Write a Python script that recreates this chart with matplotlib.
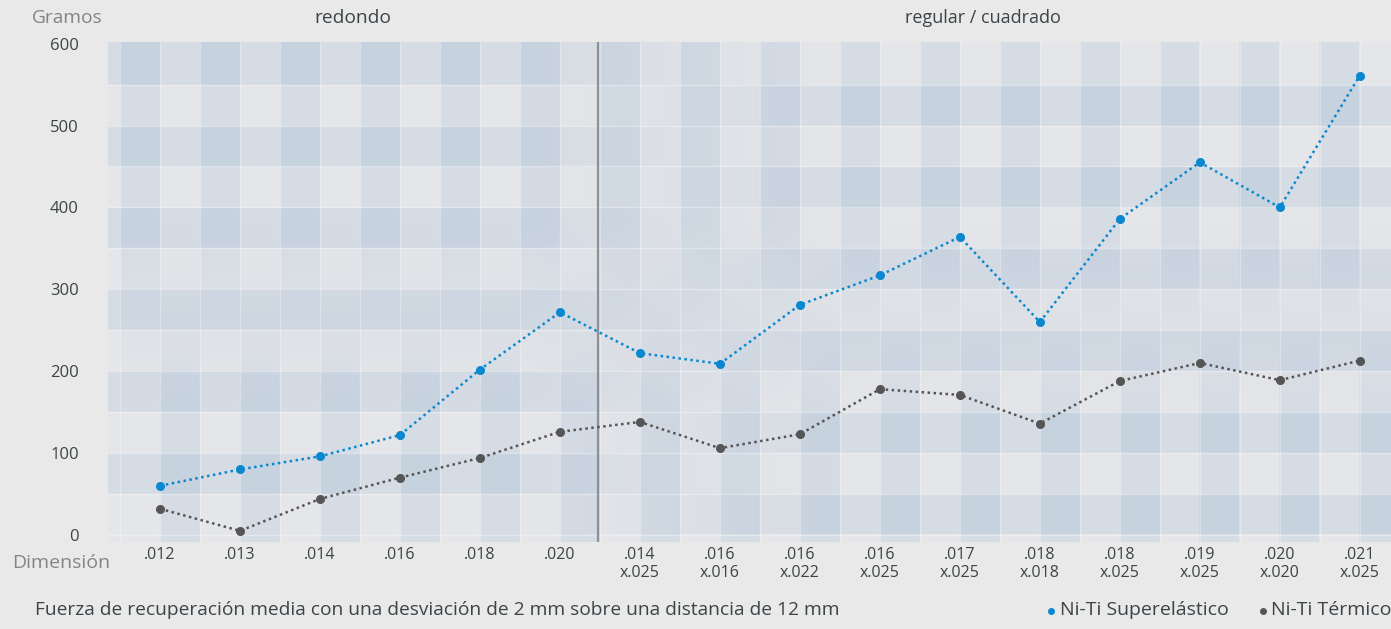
import numpy as np
import matplotlib
matplotlib.use("Agg")
import matplotlib.pyplot as plt
from matplotlib.lines import Line2D

# ---------------- data ----------------
categories = [".012", ".013", ".014", ".016", ".018", ".020",
              ".014\nx.025", ".016\nx.016", ".016\nx.022", ".016\nx.025", ".017\nx.025",
              ".018\nx.018", ".018\nx.025", ".019\nx.025", ".020\nx.020", ".021\nx.025"]
superelastico = [60, 80, 96, 122, 202, 272, 222, 209, 281, 317, 364, 260, 386, 455, 400, 561]
termico = [32, 5, 44, 70, 94, 126, 138, 106, 123, 178, 171, 136, 188, 210, 189, 213]
yticks = [0, 100, 200, 300, 400, 500, 600]
group_labels = ["redondo", "regular / cuadrado"]
series_names = ["Ni-Ti Superelástico", "Ni-Ti Térmico"]
y_title = "Gramos"
x_title = "Dimensión"
footer = "Fuerza de recuperación media con una desviación de 2 mm sobre una distancia de 12 mm"

BLUE = "#0a88cf"
GREY = "#555555"
BG = "#e9e9e9"
TXT = "#3c4447"

plt.rcParams['font.family'] = ['Open Sans', 'DejaVu Sans']

W, H = 1391, 629
fig = plt.figure(figsize=(W / 100, H / 100), dpi=100, facecolor=BG)

def fx(px):
    return px / W

def fy(py):
    return 1 - py / H

ax = fig.add_axes([fx(108), fy(542), (W - 108) / W, (542 - 42) / H])
ax.set_facecolor(BG)
n = len(categories)
x = np.arange(n)
xlim = (-0.65, 15.39)
ylim = (-8.6, 602.0)
ax.set_xlim(*xlim)
ax.set_ylim(*ylim)

# ---------------- gingham background ----------------
nx, ny = 1283, 500
X = np.linspace(xlim[0], xlim[1], nx)
Y = np.linspace(ylim[1], ylim[0], ny)
XX, YY = np.meshgrid(X, Y)
rowA = ((YY >= 550) | ((YY >= 0) & ((YY % 100) >= 50))).astype(float)
rowB = ((YY >= 0) & (YY < 550) & ((YY % 100) < 50)).astype(float)
wB = np.clip((XX - 4.5) / 4.0, 0, 1)
row_int = rowA * (1 - wB) + rowB * wB
frac = XX - np.floor(XX)
colL = ((frac >= 0.5) & (XX > -0.5)).astype(float)
colR = ((frac < 0.5) & (XX >= 0)).astype(float)
wR = np.clip((380 - YY) / 230.0, 0, 1)
col_int = colL * (1 - wR) + colR * wR
base = np.array([229, 230, 233], dtype=float)
d = np.array([15, 10, 5], dtype=float)
tot = (row_int + col_int)[..., None]
img = (base - d * tot) / 255.0
ax.imshow(img, extent=(xlim[0], xlim[1], ylim[0], ylim[1]), aspect='auto',
          interpolation='nearest', zorder=0)
for yv in np.arange(0, 600, 50):
    ax.axhline(yv, color='white', alpha=0.35, lw=1, zorder=1)
for xv in np.arange(-0.5, n, 0.5):
    ax.axvline(xv, color='white', alpha=0.3, lw=1, zorder=1)

# divider between groups
ax.axvline(5.48, color='#8c9194', lw=1.6, zorder=2)

# ---------------- series ----------------
ax.plot(x, superelastico, color=BLUE, lw=1.8, linestyle=(0, (1, 1.4)),
        marker='o', ms=5.5, zorder=4)
ax.plot(x, termico, color=GREY, lw=1.8, linestyle=(0, (1, 1.4)),
        marker='o', ms=5.5, zorder=4)

# ---------------- axes / ticks ----------------
for s in ax.spines.values():
    s.set_visible(False)
ax.set_xticks(x)
ax.set_xticklabels(categories, fontsize=11.5, color=TXT, linespacing=1.2)
ax.set_yticks(yticks)
ax.set_yticklabels([str(v) for v in yticks], fontsize=12, color=TXT)
ax.tick_params(axis='y', length=0, pad=21)
ax.tick_params(axis='x', length=0, pad=3.5)

# ---------------- texts ----------------
fig.text(fx(67), fy(18), y_title, fontsize=13.8, color='#858585', ha='center', va='center')
fig.text(fx(353), fy(18), group_labels[0], fontsize=13.8, color=TXT, ha='center', va='center')
fig.text(fx(983), fy(18), group_labels[1], fontsize=13, color=TXT, ha='center', va='center')
fig.text(fx(61), fy(563), x_title, fontsize=14, color='#858585', ha='center', va='center')
fig.text(fx(35), fy(610), footer, fontsize=13.75, color=TXT, ha='left', va='center')

# legend
leg_items = [(1051, 1060, BLUE, series_names[0]), (1263, 1271, GREY, series_names[1])]
for dot_x, txt_x, col, name in leg_items:
    fig.add_artist(Line2D([fx(dot_x)], [fy(611)], marker='o', ms=4, color=col,
                          linestyle='none', transform=fig.transFigure))
    fig.text(fx(txt_x), fy(610), name, fontsize=14, color=TXT, ha='left', va='center')

fig.savefig("out.png", dpi=100, facecolor=BG)
